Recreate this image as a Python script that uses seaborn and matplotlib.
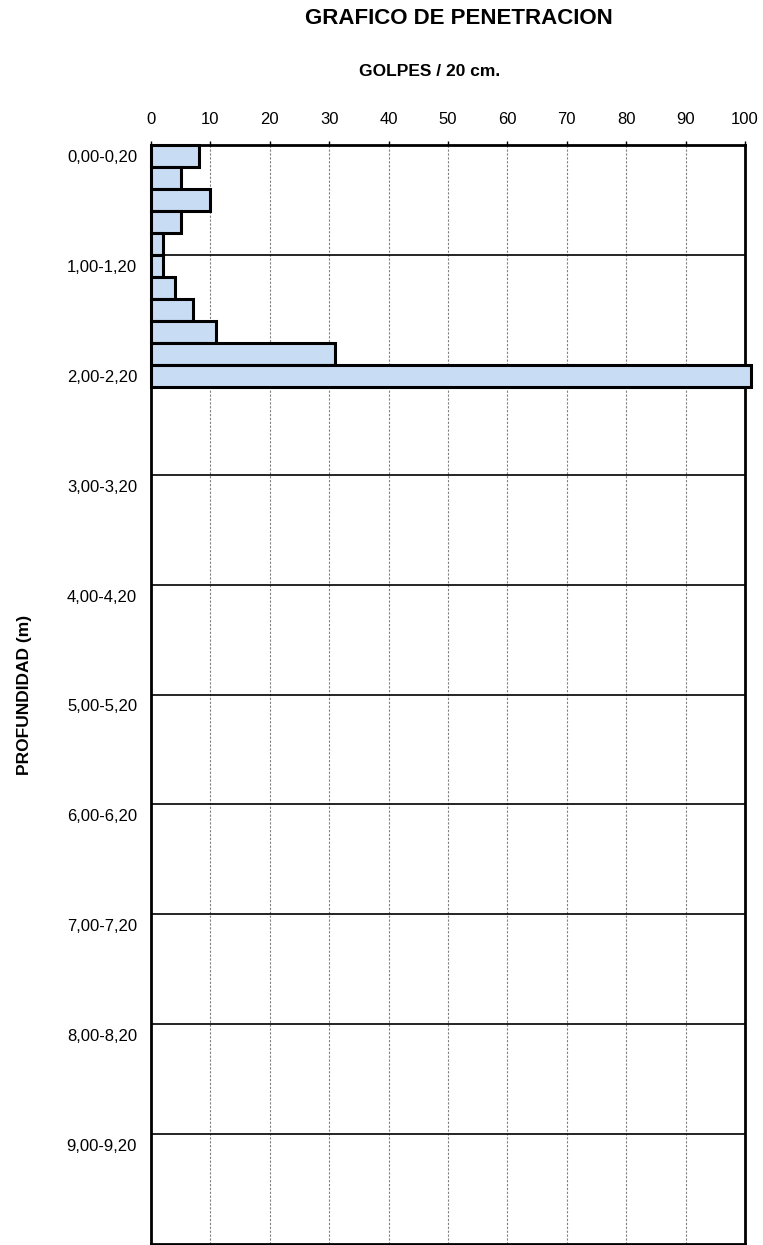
import numpy as np
import pandas as pd
import seaborn as sns
import matplotlib.pyplot as plt

# golpes por cada tramo de 20 cm
prof_centro = [0.1, 0.3, 0.5, 0.7, 0.9, 1.1, 1.3, 1.5, 1.7, 1.9, 2.1]
golpes = [8, 5, 10, 5, 2, 2, 4, 7, 11, 31, 101]
tramos = ["0,00-0,20", "1,00-1,20", "2,00-2,20", "3,00-3,20", "4,00-4,20",
          "5,00-5,20", "6,00-6,20", "7,00-7,20", "8,00-8,20", "9,00-9,20"]
golpes_ticks = [0, 10, 20, 30, 40, 50, 60, 70, 80, 90, 100]

df = pd.DataFrame({"prof": prof_centro, "golpes": golpes})

sns.set_style("white")
plt.rcParams["font.family"] = ["Liberation Sans", "DejaVu Sans"]

fig = plt.figure(figsize=(7.63, 12.45), dpi=100)
ax = fig.add_axes([151 / 763, 0.0008, 594 / 763, 1 - 145 / 1245 - 0.0008])

sns.barplot(data=df, x="golpes", y="prof", orient="h", native_scale=True,
            width=1.0, color="#c8dcf3", edgecolor="black", linewidth=2.2,
            saturation=1, ax=ax, zorder=3)
for p in ax.patches:
    p.set_clip_on(False)

ax.set_xlim(0, 100)
ax.set_ylim(10, 0)

# rejilla
for g in golpes_ticks[1:-1]:
    ax.axvline(g, color="#808080", lw=0.8, ls=(0, (2, 1.5)), zorder=1)
for m in range(1, 10):
    ax.axhline(m, color="black", lw=1.2, zorder=2)

ax.xaxis.tick_top()
ax.set_xticks(golpes_ticks)
ax.set_xticklabels([str(t) for t in golpes_ticks], fontsize=12)
ax.tick_params(axis="x", length=3, pad=10, width=1, colors="black")

ax.set_yticks([n + 0.1 for n in range(10)])
ax.set_yticklabels(tramos, fontsize=12)
ax.tick_params(axis="y", length=0, pad=10, colors="black")
ax.set_yticks(range(10), minor=True)
ax.tick_params(axis="y", which="minor", length=3, width=1)

ax.set_xlabel("")
ax.set_ylabel("")

for s in ["left", "right", "top", "bottom"]:
    ax.spines[s].set_visible(True)
    ax.spines[s].set_color("black")
    ax.spines[s].set_linewidth(2)

fig.text(459 / 763, 1 - 18 / 1245, "GRAFICO DE PENETRACION", ha="center",
         va="center", fontsize=16, fontweight="bold", color="black",
         family=["Liberation Sans Narrow", "Liberation Sans", "DejaVu Sans"])
fig.text(430 / 763, 1 - 71 / 1245, "GOLPES / 20 cm.", ha="center",
         va="center", fontsize=12.5, fontweight="bold", color="black",
         family=["Liberation Sans Narrow", "Liberation Sans", "DejaVu Sans"])
fig.text(25 / 763, 1 - 695 / 1245, "PROFUNDIDAD (m)", rotation=90,
         ha="center", va="center", fontsize=12.5, fontweight="bold",
         color="black")

fig.savefig("out.png", dpi=100)
